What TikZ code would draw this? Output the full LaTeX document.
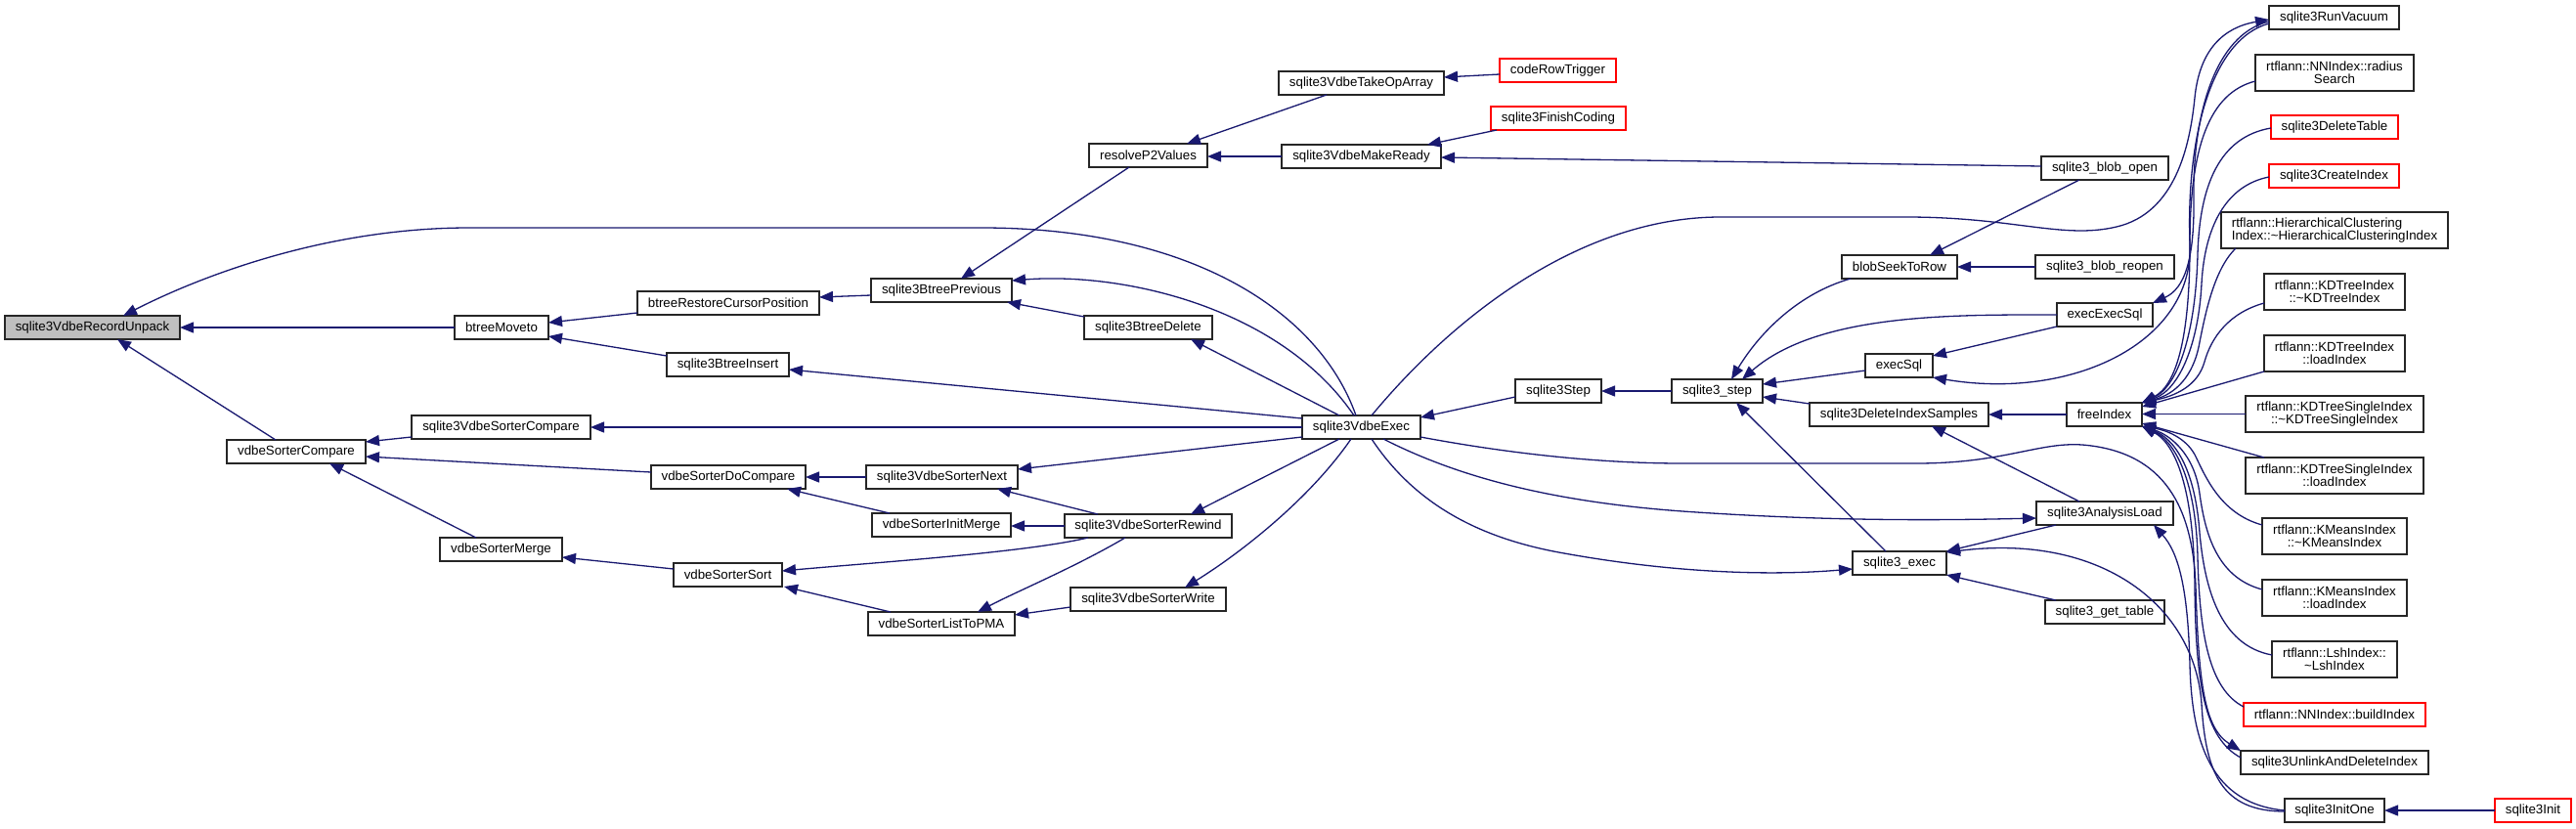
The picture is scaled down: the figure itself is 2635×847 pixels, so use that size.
\documentclass[tikz,border=0pt]{standalone}
\usepackage{fontspec}
\setmainfont{Liberation Sans}
\usetikzlibrary{arrows.meta,calc}
\definecolor{edgec}{RGB}{25,25,112}
\definecolor{focusc}{RGB}{191,191,191}
\newcommand{\gnode}[7]{\node[#7, minimum width={(#4-#2)*1pt}, minimum height={(#5-#3)*1pt}] (#1) at ({(#2+#4)/2},{(#3+#5)/2}) {#6};}
\begin{document}
\begin{tikzpicture}[x=1pt,y=-1pt,
  nd/.style={draw=black!85, line width=1.3pt, fill=white, inner sep=0pt, outer sep=0pt, font=\fontsize{13.3}{13.3}\selectfont},
  rednd/.style={nd, draw=red},
  focus/.style={nd, fill=focusc},
  e/.style={draw=edgec, line width=1.3pt, -{Triangle[length=14pt,width=11pt]}},
]
\useasboundingbox[fill=white] (0,0) rectangle (2635,847);
% nodes
\gnode{rec}{5}{323}{184}{347}{sqlite3VdbeRecordUnpack}{focus}
\gnode{btm}{465}{323}{561}{347}{btreeMoveto}{nd}
\gnode{vsc}{421}{425}{604}{449}{sqlite3VdbeSorterCompare}{nd}
\gnode{sc}{232}{450}{374}{474}{vdbeSorterCompare}{nd}
\gnode{merge}{450}{550}{575}{574}{vdbeSorterMerge}{nd}
\gnode{rp2}{1114}{147}{1235}{171}{resolveP2Values}{nd}
\gnode{brcp}{652}{298}{838}{322}{btreeRestoreCursorPosition}{nd}
\gnode{prev}{891}{285}{1035}{309}{sqlite3BtreePrevious}{nd}
\gnode{del}{1109}{323}{1240}{347}{sqlite3BtreeDelete}{nd}
\gnode{ins}{682}{361}{807}{385}{sqlite3BtreeInsert}{nd}
\gnode{doc}{666}{476}{824}{500}{vdbeSorterDoCompare}{nd}
\gnode{next}{886}{476}{1041}{500}{sqlite3VdbeSorterNext}{nd}
\gnode{initm}{892}{525}{1034}{549}{vdbeSorterInitMerge}{nd}
\gnode{rew}{1089}{526}{1260}{550}{sqlite3VdbeSorterRewind}{nd}
\gnode{sort}{689}{576}{800}{600}{vdbeSorterSort}{nd}
\gnode{pma}{888}{626}{1038}{650}{vdbeSorterListToPMA}{nd}
\gnode{write}{1095}{601}{1254}{625}{sqlite3VdbeSorterWrite}{nd}
\gnode{take}{1308}{73}{1477}{97}{sqlite3VdbeTakeOpArray}{nd}
\gnode{crt}{1534}{60}{1653}{84}{codeRowTrigger}{rednd}
\gnode{fin}{1525}{109}{1663}{133}{sqlite3FinishCoding}{rednd}
\gnode{mr}{1311}{148}{1474}{172}{sqlite3VdbeMakeReady}{nd}
\gnode{exec}{1332}{425}{1453}{449}{sqlite3VdbeExec}{nd}
\gnode{step}{1550}{388}{1638}{412}{sqlite3Step}{nd}
\gnode{ustep}{1710}{388}{1803}{412}{sqlite3\_step}{nd}
\gnode{bstr}{1884}{261}{2002}{285}{blobSeekToRow}{nd}
\gnode{esql}{1908}{362}{1977}{386}{execSql}{nd}
\gnode{dis}{1851}{412}{2034}{436}{sqlite3DeleteIndexSamples}{nd}
\gnode{uexec}{1895}{564}{1991}{588}{sqlite3\_exec}{nd}
\gnode{vac}{2321}{6}{2454}{30}{sqlite3RunVacuum}{nd}
\gnode{rs}{2307}{56}{2469}{93}{rtflann::NNIndex::radius\\Search}{nd,align=center}
\gnode{dt}{2323}{118}{2453}{142}{sqlite3DeleteTable}{rednd}
\gnode{ci}{2321}{168}{2454}{192}{sqlite3CreateIndex}{rednd}
\gnode{hc}{2272}{217}{2504}{254}{rtflann::HierarchicalClustering\\Index::\textasciitilde HierarchicalClusteringIndex}{nd,align=left}
\gnode{kd1}{2316}{280}{2460}{317}{rtflann::KDTreeIndex\\::\textasciitilde KDTreeIndex}{nd,align=center}
\gnode{kd2}{2316}{343}{2460}{380}{rtflann::KDTreeIndex\\::loadIndex}{nd,align=center}
\gnode{kds1}{2297}{405}{2479}{442}{rtflann::KDTreeSingleIndex\\::\textasciitilde KDTreeSingleIndex}{nd,align=center}
\gnode{kds2}{2297}{468}{2479}{505}{rtflann::KDTreeSingleIndex\\::loadIndex}{nd,align=center}
\gnode{km1}{2314}{530}{2462}{567}{rtflann::KMeansIndex\\::\textasciitilde KMeansIndex}{nd,align=center}
\gnode{km2}{2314}{593}{2462}{630}{rtflann::KMeansIndex\\::loadIndex}{nd,align=center}
\gnode{lsh}{2324}{656}{2452}{693}{rtflann::LshIndex::\\\textasciitilde LshIndex}{nd,align=center}
\gnode{bi}{2295}{719}{2481}{743}{rtflann::NNIndex::buildIndex}{rednd}
\gnode{unl}{2292}{768}{2484}{792}{sqlite3UnlinkAndDeleteIndex}{nd}
\gnode{init1}{2337}{817}{2439}{841}{sqlite3InitOne}{nd}
\gnode{sinit}{2552}{817}{2630}{841}{sqlite3Init}{rednd}
\gnode{bo}{2088}{160}{2218}{184}{sqlite3\_blob\_open}{nd}
\gnode{br}{2082}{261}{2224}{285}{sqlite3\_blob\_reopen}{nd}
\gnode{eesql}{2104}{310}{2202}{334}{execExecSql}{nd}
\gnode{fi}{2114}{412}{2191}{436}{freeIndex}{nd}
\gnode{al}{2083}{513}{2223}{537}{sqlite3AnalysisLoad}{nd}
\gnode{gt}{2092}{614}{2214}{638}{sqlite3\_get\_table}{nd}
% edges
\draw[e] (btm.west) -- (btm.west -| rec.east);
\draw[e] ($(sc.north west)+(50,0)$) -- ($(rec.north west)+(115,24)$);
\draw[e] ($(exec.north west)+(55,0)$) .. controls (1350,320) and (1220,232) .. (1000,233) -- (480,233) .. controls (330,233) and (200,285) .. ($(rec.north west)+(121,0)$);
\draw[e] ($(brcp.north west)+(0,22)$) -- ($(btm.north west)+(96,7)$);
\draw[e] ($(ins.north west)+(0,3)$) -- ($(btm.north west)+(96,21)$);
\draw[e] ($(prev.north west)+(0,17)$) -- ($(brcp.north west)+(186,6)$);
\draw[e] ($(rp2.north west)+(41,24)$) -- ($(prev.north west)+(92,0)$);
\draw[e] ($(exec.north west)+(53,0)$) .. controls (1310,315) and (1150,278) .. ($(prev.north west)+(144,2)$);
\draw[e] ($(del.north west)+(0,1)$) -- ($(prev.north west)+(139,24)$);
\draw[e] ($(exec.north west)+(38,0)$) -- ($(del.north west)+(109,24)$);
\draw[e] ($(exec.north west)+(0,3)$) -- ($(ins.north west)+(125,17)$);
\draw[e] ($(take.north west)+(49,24)$) -- ($(rp2.north west)+(100,0)$);
\draw[e] (mr.west) -- (mr.west -| rp2.east);
\draw[e] ($(crt.north west)+(0,16)$) -- ($(take.north west)+(169,6)$);
\draw[e] ($(fin.north west)+(6,24)$) -- ($(mr.north west)+(149,0)$);
\draw[e] ($(bo.north west)+(0,10)$) -- ($(mr.north west)+(163,13)$);
\draw[e] ($(vsc.north west)+(0,22)$) -- ($(sc.north west)+(142,2)$);
\draw[e] ($(doc.north west)+(0,7)$) -- ($(sc.north west)+(142,17)$);
\draw[e] ($(merge.north west)+(37,0)$) -- ($(sc.north west)+(105,24)$);
\draw[e] (exec.west) -- (exec.west -| vsc.east);
\draw[e] (next.west) -- (next.west -| doc.east);
\draw[e] ($(initm.north west)+(18,0)$) -- ($(doc.north west)+(139,24)$);
\draw[e] ($(exec.north west)+(0,22)$) -- ($(next.north west)+(155,4)$);
\draw[e] ($(rew.north west)+(34,0)$) -- ($(next.north west)+(134,24)$);
\draw[e] (rew.west) -- (rew.west -| initm.east);
\draw[e] ($(exec.north west)+(38,24)$) -- ($(rew.north west)+(129,0)$);
\draw[e] ($(sort.north west)+(0,6)$) -- ($(merge.north west)+(125,20)$);
\draw[e] ($(rew.north west)+(24,24)$) .. controls (1050,565) and (900,575) .. ($(sort.north west)+(111,8)$);
\draw[e] ($(pma.north west)+(23,0)$) -- ($(sort.north west)+(113,24)$);
\draw[e] ($(rew.north west)+(62,24)$) .. controls (1100,580) and (1040,605) .. ($(pma.north west)+(112,0)$);
\draw[e] ($(write.north west)+(0,20)$) -- ($(pma.north west)+(150,3)$);
\draw[e] ($(exec.north west)+(50,24)$) .. controls (1340,510) and (1270,565) .. ($(write.north west)+(117,0)$);
\draw[e] ($(step.north west)+(0,18)$) -- ($(exec.north west)+(121,2)$);
\draw[e] (ustep.west) -- (ustep.west -| step.east);
% Exec -> RunVacuum
\draw[e] ($(exec.north west)+(71,0)$) .. controls (1490,320) and (1620,222) .. (1760,222) -- (1950,222) .. controls (2060,222) and (2110,245) .. (2165,232) .. controls (2225,218) and (2240,150) .. (2245,100) .. controls (2250,50) and (2275,28) .. ($(vac.north west)+(0,14)$);
% RunVacuum -> execExecSql, execSql
\draw[e] ($(vac.north west)+(0,16)$) .. controls (2265,35) and (2243,120) .. (2244,200) .. controls (2245,265) and (2235,295) .. (eesql.north east);
\draw[e] ($(vac.north west)+(0,18)$) .. controls (2262,40) and (2236,140) .. (2240,250) .. controls (2244,350) and (2120,410) .. (esql.south east);
\draw[e] ($(eesql.north west)+(0,24)$) -- ($(esql.north west)+(69,2)$);
% callers of sqlite3_step
\draw[e] ($(bstr.north west)+(9,24)$) .. controls (1840,300) and (1800,340) .. ($(ustep.north west)+(61,0)$);
\draw[e] ($(eesql.north west)+(0,12)$) .. controls (2000,322) and (1860,320) .. ($(ustep.north west)+(72,0)$);
\draw[e] ($(esql.north west)+(0,17)$) -- ($(ustep.north west)+(93,5)$);
\draw[e] ($(dis.north west)+(0,1)$) -- ($(ustep.north west)+(93,18)$);
\draw[e] ($(uexec.north west)+(34,0)$) -- ($(ustep.north west)+(66,24)$);
\draw[e] ($(bo.north west)+(39,24)$) -- ($(bstr.north west)+(90,0)$);
\draw[e] (br.west) -- (br.west -| bstr.east);
\draw[e] (fi.west) -- (fi.west -| dis.east);
\draw[e] ($(al.north west)+(44,0)$) -- ($(dis.north west)+(125,24)$);
% Exec -> AnalysisLoad, sqlite3_exec, UnlinkAndDeleteIndex
\draw[e] ($(exec.north west)+(83,24)$) .. controls (1480,482) and (1570,512) .. (1721,523) .. controls (1850,532) and (1960,533) .. ($(al.north west)+(0,17)$);
\draw[e] ($(exec.north west)+(71,24)$) .. controls (1450,520) and (1520,552) .. (1600,566) .. controls (1700,584) and (1800,590) .. ($(uexec.north west)+(0,18)$);
\draw[e] ($(exec.north west)+(121,22)$) .. controls (1560,467) and (1650,474) .. (1721,474) -- (1960,474) .. controls (2050,474) and (2085,452) .. (2130,455) .. controls (2215,462) and (2243,520) .. (2246,600) .. controls (2249,700) and (2255,745) .. (unl.north west);
% sqlite3_exec callers
\draw[e] ($(al.north west)+(20,24)$) -- ($(uexec.north west)+(96,0)$);
\draw[e] ($(init1.north west)+(0,13)$) .. controls (2272,830) and (2256,790) .. (2252,720) .. controls (2245,620) and (2150,545) .. ($(uexec.north west)+(96,1)$);
\draw[e] ($(init1.north west)+(0,12)$) .. controls (2262,822) and (2242,760) .. (2240,680) .. controls (2238,600) and (2228,565) .. ($(al.north west)+(120,24)$);
\draw[e] ($(gt.north west)+(11,0)$) -- ($(uexec.north west)+(96,24)$);
\draw[e] (sinit.west) -- (sinit.west -| init1.east);
% freeIndex callers
\draw[e] ($(rs.north west)+(0,27)$) .. controls (2260,95) and (2240,150) .. (2240,250) .. controls (2240,350) and (2225,395) .. (fi.north east);
\draw[e] ($(dt.north west)+(0,13)$) .. controls (2270,140) and (2250,190) .. (2248,260) .. controls (2246,340) and (2228,395) .. (fi.north east);
\draw[e] ($(ci.north west)+(0,13)$) .. controls (2275,190) and (2255,235) .. (2252,290) .. controls (2249,350) and (2230,398) .. (fi.north east);
\draw[e] ($(hc.north west)+(15,37)$) .. controls (2265,275) and (2256,320) .. (2250,350) .. controls (2244,385) and (2225,403) .. (fi.north east);
\draw[e] ($(kd1.north west)+(0,30)$) .. controls (2280,320) and (2262,345) .. (2255,370) .. controls (2248,395) and (2225,405) .. (fi.north east);
\draw[e] ($(kd2.north west)+(0,37)$) -- ($(fi.north west)+(77,4)$);
\draw[e] (kds1.west) -- (kds1.west -| fi.east);
\draw[e] ($(kds2.north west)+(19,0)$) -- ($(fi.north west)+(77,21)$);
\draw[e] ($(km1.north west)+(0,7)$) .. controls (2270,525) and (2255,485) .. (2245,465) .. controls (2235,447) and (2215,440) .. (fi.south east);
\draw[e] ($(km2.north west)+(0,10)$) .. controls (2265,590) and (2255,540) .. (2250,505) .. controls (2245,465) and (2220,445) .. (fi.south east);
\draw[e] ($(lsh.north west)+(0,14)$) .. controls (2270,660) and (2255,600) .. (2250,545) .. controls (2245,475) and (2222,448) .. (fi.south east);
\draw[e] ($(bi.north west)+(0,4)$) .. controls (2260,705) and (2250,650) .. (2248,570) .. controls (2246,485) and (2222,450) .. (fi.south east);
\draw[e] ($(unl.north west)+(0,7)$) .. controls (2255,755) and (2246,700) .. (2245,600) .. controls (2244,490) and (2222,452) .. (fi.south east);
\end{tikzpicture}
\end{document}
